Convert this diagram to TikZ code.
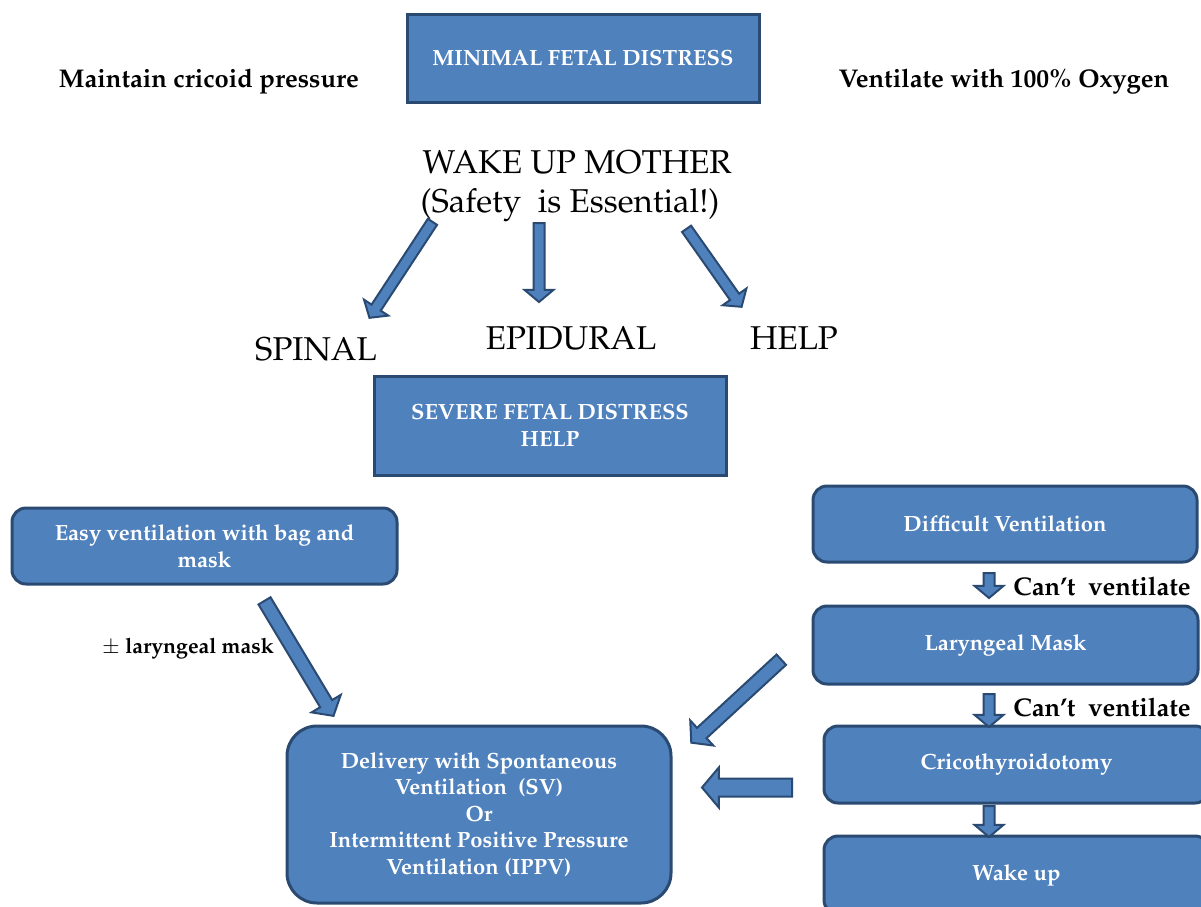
\documentclass[tikz,border=0pt]{standalone}
\usepackage[T1]{fontenc}
\usepackage{mathpazo}
\usetikzlibrary{shapes.arrows,calc}
\definecolor{bfill}{HTML}{4F81BD}
\definecolor{bline}{HTML}{2B4A72}
\tikzset{
  box/.style={draw=bline, fill=bfill, line width=3pt, text=white,
    font=\fontsize{22}{26.5}\selectfont\bfseries, align=center, inner sep=0pt},
  rbox/.style={box, rounded corners=14pt},
  biglabel/.style={font=\fontsize{33}{39}\selectfont, inner sep=0pt, align=center},
  boldlabel/.style={font=\fontsize{25.6}{30}\selectfont\bfseries, inner sep=0pt},
  barrowshape/.style={single arrow, draw=bline, fill=bfill, line width=2pt,
    inner xsep=0pt, inner ysep=4.5pt, single arrow head extend=9pt,
    single arrow tip angle=100, sloped, allow upside down, anchor=tail, pos=0},
  bigarrow/.style={inner ysep=6pt, single arrow head extend=10pt},
}
\newcommand\blockarrow[3][]{\path let \p1=($(#3)-(#2)$), \n1={veclen(\x1,\y1)} in
  (#2) -- (#3) node[barrowshape, #1, minimum height=\n1]{};}
\begin{document}
\begin{tikzpicture}[x=1pt,y=-1pt]
\useasboundingbox (0,0) rectangle (1201,906);
\clip (0,0) rectangle (1201,906);
\fill[white] (0,0) rectangle (1201,906);

% top
\node[box, minimum width=352, minimum height=88] (minimal) at (583,58) {MINIMAL FETAL DISTRESS};
\node[boldlabel] (cricoid) at (209,82) {Maintain cricoid pressure};
\node[boldlabel] (oxygen) at (1004,82) {Ventilate with 100\% Oxygen};
\node[biglabel] (wake) at (577,162) {WAKE UP MOTHER};
\node[biglabel] (safety) at (570,205) {(Safety\ \ is Essential!)};

\node[biglabel] (spinal) at (316,349) {SPINAL};
\node[biglabel] (epidural) at (571,338) {EPIDURAL};
\node[biglabel] (help) at (794,338) {HELP};

\coordinate (a1s) at (433,221); \coordinate (a1e) at (370,317);
\coordinate (a2s) at (539,222); \coordinate (a2e) at (539,301);
\coordinate (a3s) at (686,228); \coordinate (a3e) at (741,306);
\blockarrow{a1s}{a1e}
\blockarrow{a2s}{a2e}
\blockarrow{a3s}{a3e}

\node[box, minimum width=352, minimum height=99] (severe) at (550,425.5) {SEVERE FETAL DISTRESS\\HELP};

% left branch
\node[rbox, minimum width=385, minimum height=76] (easy) at (204.5,546) {Easy ventilation with bag and\\mask};
\node[boldlabel, font=\fontsize{21.3}{26}\selectfont\bfseries] (lmlabel) at (188,649) {$\pm$ laryngeal mask};
\node[box, rounded corners=30pt, minimum width=384, minimum height=177] (delivery) at (479,814.5)
  {Delivery with Spontaneous\\Ventilation\ \ (SV)\\Or\\Intermittent Positive Pressure\\Ventilation (IPPV)};
\coordinate (a4s) at (264,600); \coordinate (a4e) at (333,715);
\blockarrow[bigarrow]{a4s}{a4e}

% right branch
\node[rbox, minimum width=384, minimum height=76] (difficult) at (1005,524) {Difficult Ventilation};
\node[rbox, minimum width=385, minimum height=78] (laryngeal) at (1005.5,645) {Laryngeal Mask};
\node[rbox, minimum width=385, minimum height=77] (crico) at (1016.5,764.5) {Cricothyroidotomy};
\node[rbox, minimum width=385, minimum height=78] (wakeup) at (1016.5,875) {Wake up};

\node[boldlabel] (cant1) at (1102,586) {Can't\ \ ventilate};
\node[boldlabel] (cant2) at (1102,707) {Can't\ \ ventilate};

\coordinate (s1s) at (989,572); \coordinate (s1e) at (989,597);
\coordinate (s2s) at (989,693); \coordinate (s2e) at (989,726);
\coordinate (s3s) at (989,805); \coordinate (s3e) at (989,836);
\blockarrow{s1s}{s1e}
\blockarrow{s2s}{s2e}
\blockarrow{s3s}{s3e}

\coordinate (a5s) at (782,659); \coordinate (a5e) at (692,742);
\coordinate (a6s) at (793,787.5); \coordinate (a6e) at (703,787.5);
\blockarrow[bigarrow]{a5s}{a5e}
\blockarrow[inner ysep=8pt, single arrow head extend=11pt]{a6s}{a6e}
\end{tikzpicture}
\end{document}
